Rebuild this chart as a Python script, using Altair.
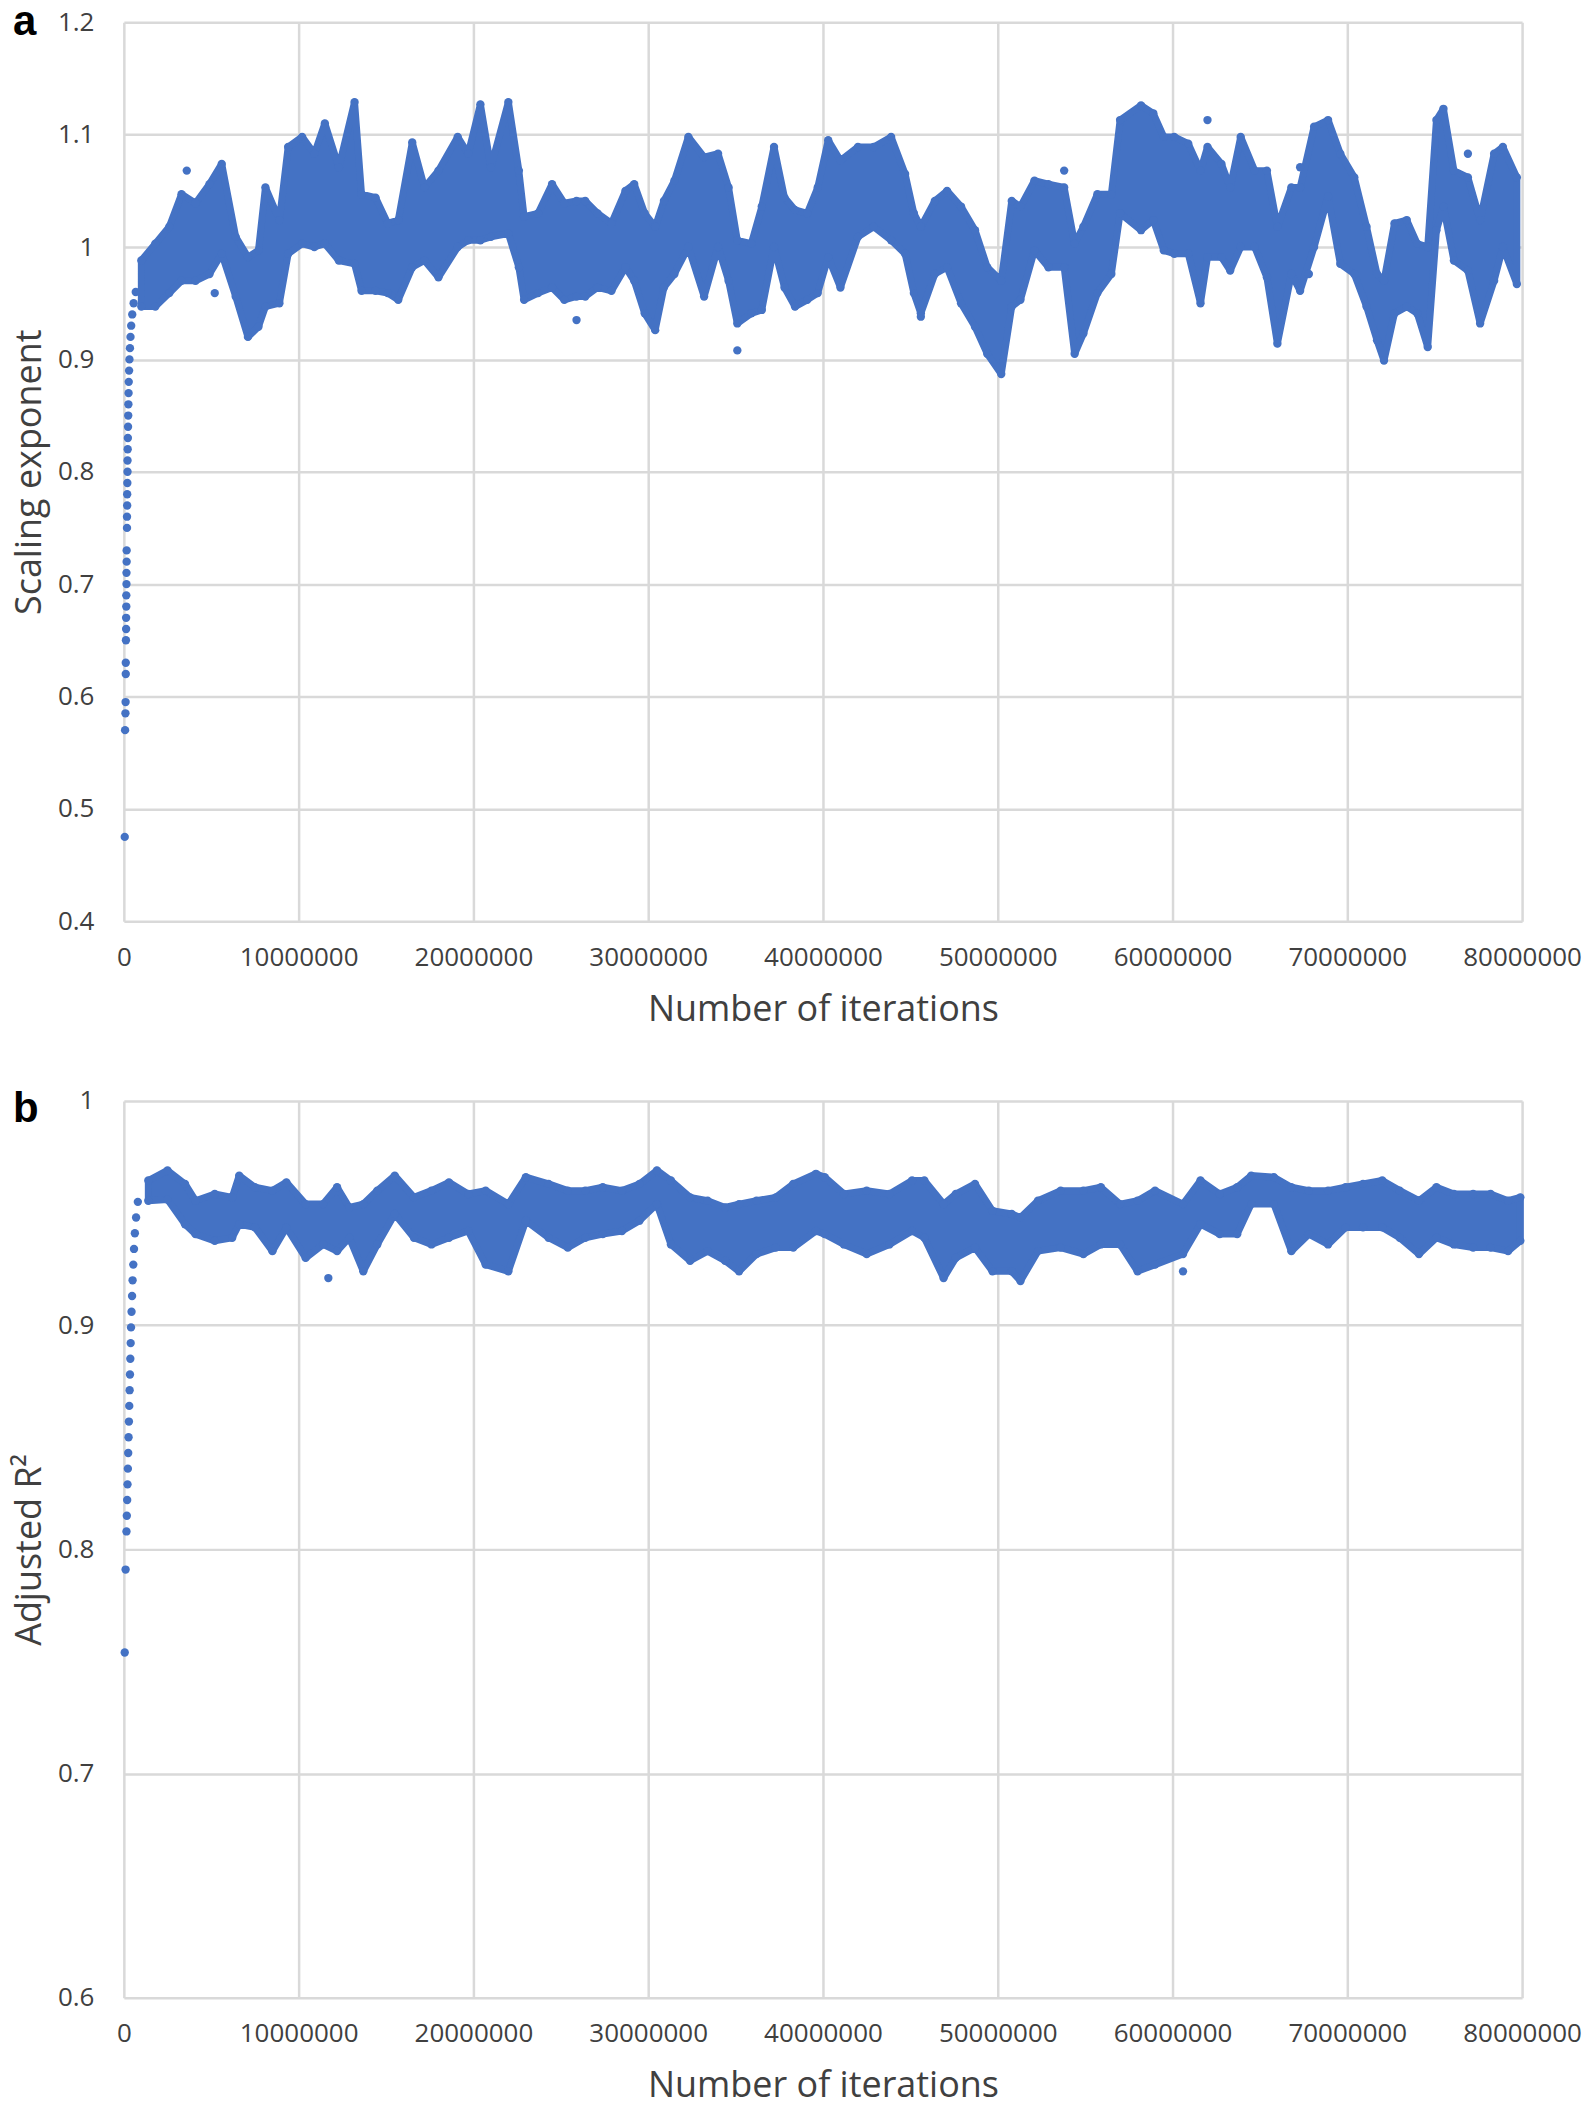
import altair as alt
import pandas as pd

BLUE = "#4472C4"

x_ticks = [0, 10000000, 20000000, 30000000, 40000000, 50000000, 60000000, 70000000, 80000000]
a_yticks = [0.4, 0.5, 0.6, 0.7, 0.8, 0.9, 1.0, 1.1, 1.2]
b_yticks = [0.6, 0.7, 0.8, 0.9, 1.0]
panel_letters = ["a", "b"]

# ---- panel a : scaling exponent (x in millions of iterations) ----
a_x = [1.0, 1.8, 2.6, 3.3, 4.1, 4.9, 5.6, 6.4, 7.1, 7.7, 8.1, 8.9, 9.4, 10.2, 10.9, 11.5, 12.3, 13.2, 13.6, 14.4,
       15.1, 15.7, 16.5, 17.2, 18.0, 19.1, 19.7,
       20.4, 21.0, 22.0, 22.6, 22.9, 23.7, 24.5, 25.2, 25.9, 26.4, 27.1, 27.9, 28.7, 29.2, 29.8, 30.4, 30.9, 31.5,
       32.3, 33.2, 34.0, 34.6, 35.1, 35.9, 36.5, 37.2, 37.8, 38.4, 39.1, 39.7,
       40.3, 41.0, 42.0, 42.9, 43.9, 44.7, 45.2, 45.6, 46.4, 47.1, 47.9, 48.7, 49.4, 50.2, 50.8, 51.3, 52.1, 52.9,
       53.8, 54.4, 54.9, 55.7, 56.5, 57.0, 58.2, 58.9, 59.5,
       60.1, 60.9, 61.6, 62.0, 62.8, 63.3, 63.9, 64.7, 65.4, 66.0, 66.8, 67.3, 68.1, 68.9, 69.6, 70.4, 71.1, 71.7,
       72.1, 72.7, 73.4, 74.0, 74.6, 75.1, 75.5, 76.1, 76.9, 77.6, 78.4, 78.9, 79.7]
a_hi = [0.988, 1.003, 1.018, 1.047, 1.039, 1.056, 1.074, 1.009, 0.991, 0.997, 1.053, 1.024, 1.089, 1.098, 1.083,
        1.110, 1.071, 1.129, 1.047, 1.044, 1.021, 1.024, 1.093, 1.053, 1.068, 1.098, 1.083,
        1.127, 1.071, 1.129, 1.068, 1.027, 1.030, 1.056, 1.039, 1.041, 1.041, 1.030, 1.021, 1.050, 1.056, 1.030,
        1.018, 1.041, 1.059, 1.098, 1.080, 1.083, 1.053, 1.006, 1.003, 1.036, 1.089, 1.044, 1.033, 1.030, 1.053,
        1.095, 1.077, 1.089, 1.089, 1.098, 1.065, 1.030, 1.018, 1.041, 1.050, 1.036, 1.015, 0.982, 0.970, 1.041,
        1.036, 1.059, 1.056, 1.053, 1.003, 1.018, 1.047, 1.047, 1.113, 1.126, 1.119, 1.098,
        1.098, 1.092, 1.068, 1.089, 1.074, 1.053, 1.098, 1.068, 1.068, 1.018, 1.053, 1.053, 1.107, 1.113, 1.083,
        1.062, 1.018, 0.976, 0.970, 1.021, 1.024, 1.003, 1.000, 1.113, 1.123, 1.068, 1.062, 1.024, 1.083, 1.089, 1.062]
a_lo = [0.947, 0.947, 0.959, 0.970, 0.970, 0.976, 0.994, 0.956, 0.920, 0.929, 0.947, 0.950, 0.994, 1.003, 1.000,
        1.003, 0.988, 0.985, 0.961, 0.961, 0.959, 0.953, 0.982, 0.988, 0.973, 1.000, 1.006,
        1.006, 1.009, 1.012, 0.982, 0.953, 0.959, 0.964, 0.953, 0.956, 0.956, 0.964, 0.961, 0.982, 0.970, 0.941,
        0.926, 0.964, 0.976, 1.000, 0.956, 1.000, 0.970, 0.932, 0.941, 0.944, 1.000, 0.964, 0.947, 0.953, 0.959,
        0.991, 0.964, 1.009, 1.018, 1.006, 0.994, 0.959, 0.941, 0.976, 0.982, 0.950, 0.929, 0.905, 0.887, 0.947,
        0.953, 0.997, 0.982, 0.982, 0.905, 0.923, 0.959, 0.976, 1.030, 1.015, 1.024, 0.997,
        0.994, 0.994, 0.950, 0.991, 0.991, 0.979, 1.000, 1.000, 0.973, 0.914, 0.976, 0.961, 1.000, 1.045, 0.985,
        0.976, 0.947, 0.917, 0.899, 0.941, 0.947, 0.941, 0.911, 1.015, 1.036, 0.988, 0.979, 0.932, 0.970, 1.000, 0.967]
# start-up transient and isolated points
a_px = [0.05, 0.07, 0.09, 0.10, 0.11, 0.11,
        0.12, 0.13, 0.13, 0.14, 0.14, 0.15, 0.15, 0.16, 0.16, 0.18, 0.18, 0.19, 0.19, 0.20, 0.21, 0.21, 0.22,
        0.23, 0.24, 0.25, 0.26, 0.27, 0.28, 0.30, 0.32, 0.35, 0.38, 0.42, 0.48, 0.56, 0.68,
        3.6, 5.2, 25.9, 35.1, 45.6, 53.8, 62.0, 67.3, 67.8, 76.9]
a_py = [0.475, 0.57, 0.585, 0.595, 0.62, 0.63,
        0.65, 0.66, 0.67, 0.68, 0.69, 0.70, 0.71, 0.72, 0.73, 0.75, 0.76, 0.77, 0.78, 0.79, 0.80, 0.81, 0.82,
        0.83, 0.84, 0.85, 0.86, 0.87, 0.88, 0.89, 0.90, 0.91, 0.92, 0.93, 0.94, 0.95, 0.96,
        1.068, 0.959, 0.935, 0.908, 0.938, 1.068, 1.113, 1.071, 0.976, 1.083]

# ---- panel b : adjusted R^2 ----
b_x = [1.4, 2.5, 3.5, 4.1, 5.2, 6.2, 6.6, 7.5, 8.5, 9.3, 10.4, 11.4, 12.2, 12.9, 13.7, 14.5, 15.5, 16.6, 17.6, 18.6,
       19.7, 20.7, 22.0, 23.0, 24.3, 25.4, 26.4, 27.4, 28.5, 29.5, 30.5, 31.3, 32.4, 33.4, 34.4, 35.2, 36.2, 37.3,
       38.3, 39.6, 40.1, 41.2, 42.5, 43.8, 45.1, 45.8, 46.9, 47.6, 48.7, 49.7, 50.8, 51.3, 52.3, 53.6, 54.9, 55.9,
       57.0, 58.0, 59.0, 60.6, 61.6, 62.7, 63.7, 64.5, 65.8, 66.8, 67.8, 68.9, 69.9, 70.9, 72.0, 73.0, 74.1, 75.1,
       76.1, 77.2, 78.2, 79.2, 79.9]
b_hi = [0.9645, 0.969, 0.963, 0.9555, 0.9585, 0.957, 0.9667, 0.9615, 0.960, 0.9637, 0.954, 0.954, 0.9615, 0.9525,
        0.954, 0.960, 0.9667, 0.957, 0.960, 0.9637, 0.9585, 0.960, 0.954, 0.966, 0.963, 0.960, 0.960, 0.9615, 0.960,
        0.963, 0.969, 0.9645, 0.957, 0.9555, 0.9525, 0.954, 0.9555, 0.957, 0.963, 0.9675, 0.966, 0.9585, 0.960,
        0.9585, 0.9645, 0.9645, 0.954, 0.9585, 0.963, 0.951, 0.9496, 0.948, 0.9555, 0.960, 0.960, 0.9615, 0.954,
        0.9555, 0.960, 0.954, 0.9645, 0.9585, 0.9615, 0.9667, 0.966, 0.9615, 0.960, 0.960, 0.9615, 0.963, 0.9645,
        0.960, 0.9555, 0.9615, 0.9585, 0.9585, 0.9585, 0.9555, 0.957]
b_lo = [0.9555, 0.956, 0.945, 0.9406, 0.9376, 0.939, 0.945, 0.9436, 0.933, 0.9436, 0.930, 0.936, 0.933, 0.939,
        0.924, 0.936, 0.9496, 0.939, 0.936, 0.939, 0.942, 0.927, 0.924, 0.9466, 0.939, 0.9346, 0.939, 0.9406, 0.942,
        0.9466, 0.954, 0.936, 0.9287, 0.933, 0.9287, 0.924, 0.9317, 0.9346, 0.9346, 0.942, 0.9406, 0.936, 0.9317,
        0.936, 0.942, 0.939, 0.921, 0.930, 0.9346, 0.924, 0.924, 0.9197, 0.933, 0.9346, 0.9317, 0.936, 0.936, 0.924,
        0.927, 0.9317, 0.945, 0.9406, 0.9406, 0.954, 0.954, 0.933, 0.9406, 0.936, 0.9436, 0.9436, 0.9436, 0.939,
        0.9317, 0.939, 0.936, 0.9346, 0.9346, 0.933, 0.9376]
b_px = [0.05, 0.10,
        0.15, 0.17, 0.19, 0.21, 0.23, 0.25, 0.27, 0.29, 0.31, 0.33, 0.35, 0.37, 0.39, 0.41, 0.44, 0.47, 0.50,
        0.54, 0.58, 0.63, 0.70, 0.80,
        11.7, 60.6]
b_py = [0.754, 0.791,
        0.808, 0.815, 0.822, 0.829, 0.836, 0.843, 0.850, 0.857, 0.864, 0.871, 0.878, 0.885, 0.892, 0.899, 0.906,
        0.913, 0.920, 0.927, 0.934, 0.941, 0.948, 0.955,
        0.921, 0.924]

FONT = "Open Sans"
DOT = 70


def panel(bx, bhi, blo, px, py, ydom, yticks, ytitle, letter, letter_y, height):
    band = pd.DataFrame({"x": [v * 1e6 for v in bx], "hi": bhi, "lo": blo})
    pts = pd.DataFrame({"x": [v * 1e6 for v in px], "y": py})
    xs = alt.Scale(domain=[0, 80000000], nice=False, zero=False)
    ys = alt.Scale(domain=ydom, nice=False, zero=False)
    xax = alt.Axis(values=x_ticks, format="d", title="Number of iterations", labelFlush=False,
                   labelOverlap=False, labelPadding=23, titlePadding=22)
    yax = alt.Axis(values=yticks, format=".1~f", title=ytitle, labelFlush=False, labelOverlap=False,
                   labelPadding=30, titlePadding=9)
    area = alt.Chart(band).mark_area(color=BLUE, stroke=BLUE, strokeWidth=7, strokeJoin="round",
                                     opacity=1, fillOpacity=1).encode(
        x=alt.X("x:Q", scale=xs, axis=xax),
        y=alt.Y("hi:Q", scale=ys, axis=yax),
        y2="lo:Q")
    edges = alt.Chart(band).transform_fold(["hi", "lo"], as_=["k", "v"]).mark_circle(
        size=DOT, color=BLUE, opacity=1).encode(x=alt.X("x:Q", scale=xs), y=alt.Y("v:Q", scale=ys))
    dots = alt.Chart(pts).mark_circle(size=DOT, color=BLUE, opacity=1).encode(
        x=alt.X("x:Q", scale=xs), y=alt.Y("y:Q", scale=ys))
    lab = alt.Chart(pd.DataFrame({"t": [letter]})).mark_text(
        font="Liberation Sans", fontWeight="bold", fontSize=42, align="left", baseline="alphabetic",
        color="black").encode(x=alt.value(-111), y=alt.value(letter_y), text="t:N")
    return alt.layer(area, edges, dots, lab).properties(width=1400, height=height)


pa = panel(a_x, a_hi, a_lo, a_px, a_py, [0.4, 1.2], a_yticks, "Scaling exponent", panel_letters[0], 13, 900)
pb = panel(b_x, b_hi, b_lo, b_px, b_py, [0.6, 1.0], b_yticks, "Adjusted R²", panel_letters[1], 21, 898)

chart = alt.vconcat(pa, pb, spacing=61).properties(
    padding={"left": 3, "top": -8, "right": 5, "bottom": 0}
).configure_axis(
    grid=True, gridColor="#d9d9d9", gridWidth=2.5, domain=False, ticks=False,
    labelFont=FONT, labelFontSize=26, labelColor="#404040",
    titleFont=FONT, titleFontSize=36, titleFontWeight="normal", titleColor="#404040"
).configure_view(stroke=None)

chart.save("out.html", embed_options={"renderer": "svg", "actions": False})
